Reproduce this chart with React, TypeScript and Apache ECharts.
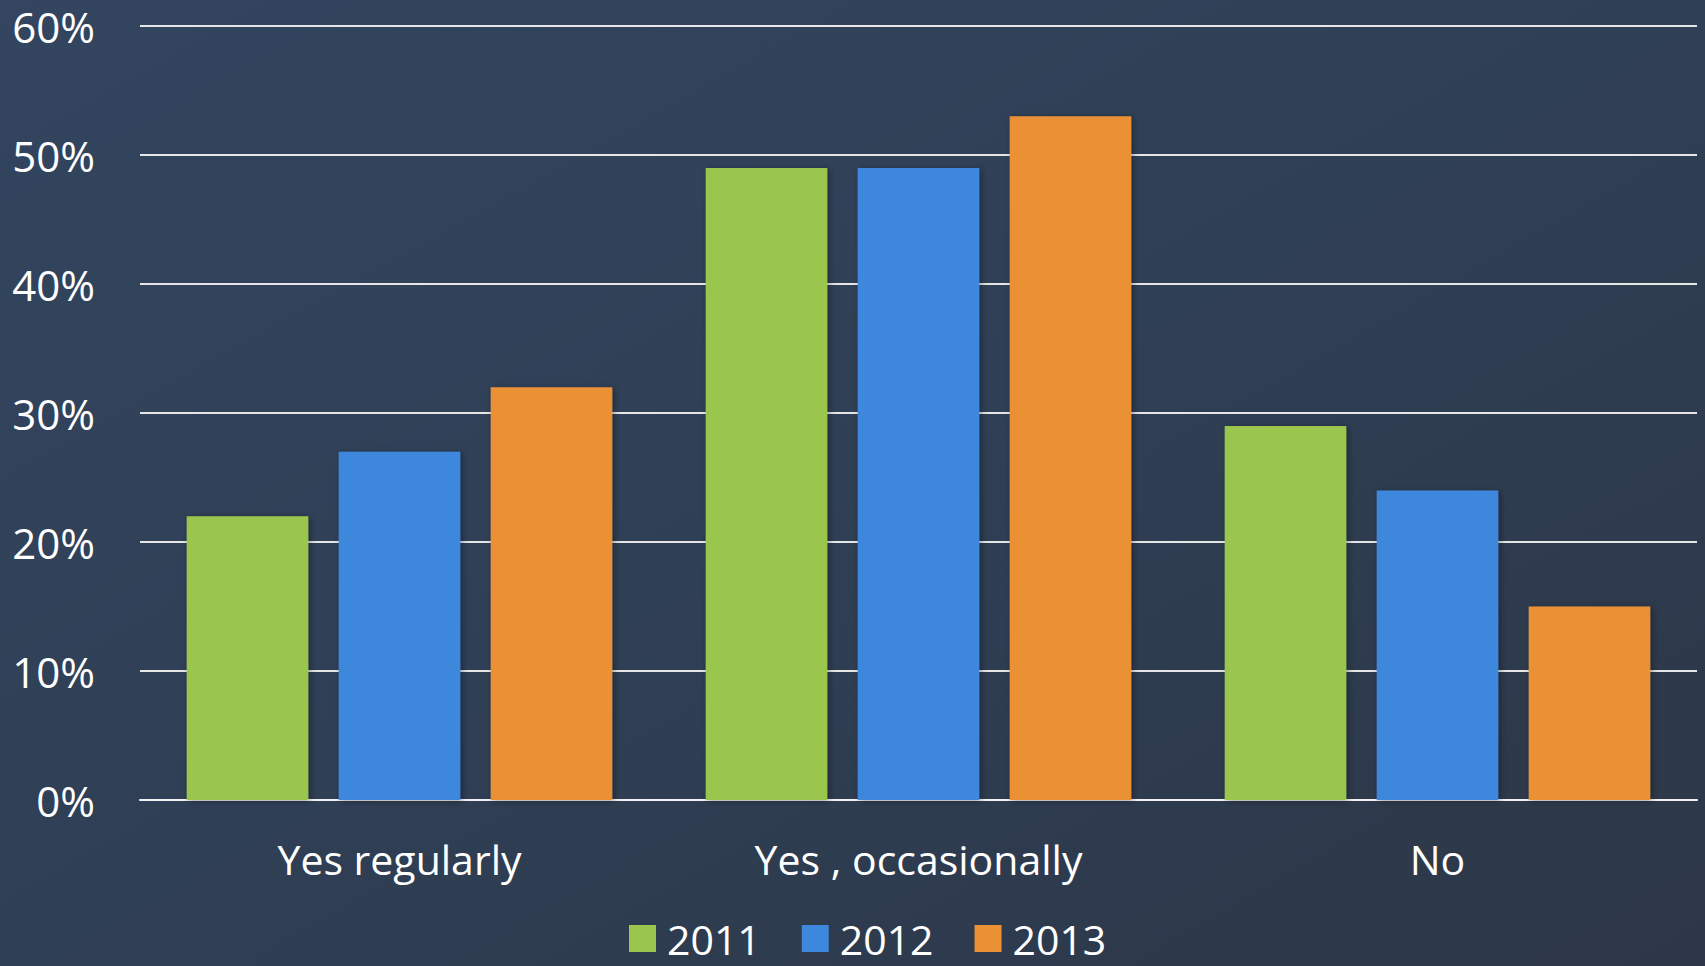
import React, { useEffect, useRef } from "react";
import * as echarts from "echarts";

const categories = ["Yes regularly", "Yes , occasionally", "No"];
const seriesNames = ["2011", "2012", "2013"];
const values2011 = [22, 49, 29];
const values2012 = [27, 49, 24];
const values2013 = [32, 53, 15];
const colors = ["#9BC64E", "#3D88DC", "#EB9135"];

export default function App() {
  const ref = useRef<HTMLDivElement>(null);
  useEffect(() => {
    document.body.style.margin = "0";
    const chart = echarts.init(ref.current!, null, { renderer: "svg" });
    const font = "'Open Sans', sans-serif";
    const data = [values2011, values2012, values2013];
    chart.setOption({
      animation: false,
      backgroundColor: {
        type: "linear",
        x: 0,
        y: 0,
        x2: 1,
        y2: 1,
        colorStops: [
          { offset: 0, color: "#33455f" },
          { offset: 0.5, color: "#2f3f55" },
          { offset: 1, color: "#2d3747" },
        ],
      },
      color: colors,
      grid: { left: 140, right: 8, top: 26, bottom: 166, containLabel: false },
      legend: {
        data: seriesNames,
        left: 629,
        top: 918,
        padding: 0,
        itemWidth: 27,
        itemHeight: 27,
        itemGap: 41,
        icon: "rect",
        textStyle: {
          color: "#ffffff",
          fontSize: 41,
          fontFamily: font,
          lineHeight: 34,
          padding: [0, 0, 0, 6],
        },
      },
      xAxis: {
        type: "category",
        data: categories,
        axisLine: { show: true, lineStyle: { color: "#f2f2f2", width: 2 } },
        axisTick: { show: false },
        axisLabel: { color: "#ffffff", fontSize: 41, fontFamily: font, margin: 38, lineHeight: 41 },
      },
      yAxis: {
        type: "value",
        min: 0,
        max: 60,
        interval: 10,
        axisLine: { show: false },
        axisTick: { show: false },
        splitLine: { lineStyle: { color: "#e6e6e6", width: 2 } },
        axisLabel: {
          color: "#ffffff",
          fontSize: 42,
          fontFamily: font,
          lineHeight: 30,
          margin: 45,
          padding: [0, 0, 6, 0],
          formatter: "{value}%",
        },
      },
      series: seriesNames.map((name, i) => ({
        name,
        type: "bar",
        data: data[i],
        barGap: "25%",
        barCategoryGap: "18%",
        itemStyle: {
          color: colors[i],
          shadowColor: "rgba(0,0,0,0.35)",
          shadowBlur: 6,
          shadowOffsetX: 2,
          shadowOffsetY: 1,
        },
      })),
    });
    return () => chart.dispose();
  }, []);
  return <div ref={ref} style={{ position: "absolute", left: 0, top: 0, width: 1705, height: 966 }} />;
}
